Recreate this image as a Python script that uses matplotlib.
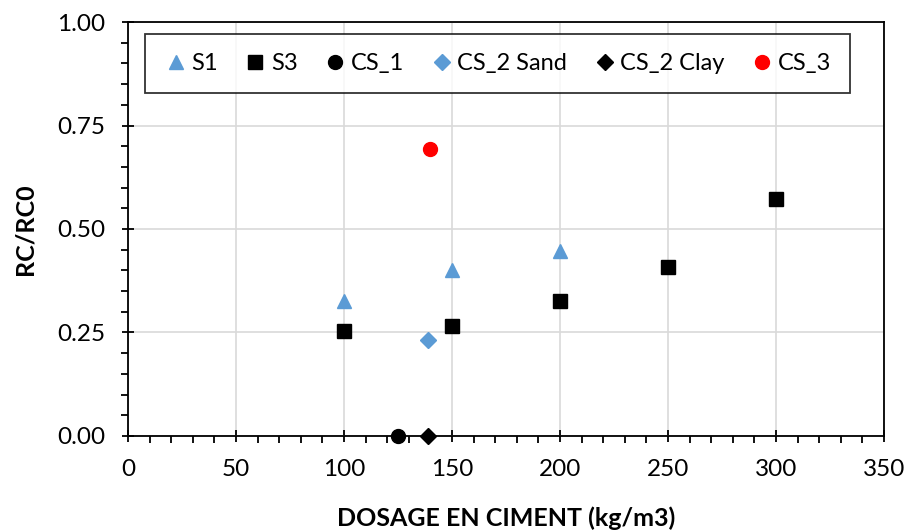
import matplotlib
matplotlib.use("Agg")
import matplotlib.pyplot as plt
from matplotlib.ticker import MultipleLocator

plt.rcParams['font.family'] = ['Lato', 'DejaVu Sans']

s1_x = [100, 150, 200]
s1_y = [0.325, 0.401, 0.446]
s3_x = [100, 150, 200, 250, 300]
s3_y = [0.254, 0.266, 0.326, 0.408, 0.572]
cs1_x = [125]
cs1_y = [0.0]
cs2s_x = [139]
cs2s_y = [0.232]
cs2c_x = [139]
cs2c_y = [0.0]
cs3_x = [140]
cs3_y = [0.693]

blue = '#5B9BD5'

fig = plt.figure(figsize=(9.06, 5.32), dpi=100)
ax = fig.add_axes([0.1413, 0.1805, 0.8344, 0.7781])

ax.plot(s1_x, s1_y, ls='none', marker='^', ms=10, color=blue, label='S1', zorder=3, clip_on=False)
ax.plot(s3_x, s3_y, ls='none', marker='s', ms=10, color='black', label='S3', zorder=3, clip_on=False)
ax.plot(cs1_x, cs1_y, ls='none', marker='o', ms=10, color='black', label='CS_1', zorder=3, clip_on=False)
ax.plot(cs2s_x, cs2s_y, ls='none', marker='D', ms=8, color=blue, label='CS_2 Sand', zorder=3, clip_on=False)
ax.plot(cs2c_x, cs2c_y, ls='none', marker='D', ms=8, color='black', label='CS_2 Clay', zorder=3, clip_on=False)
ax.plot(cs3_x, cs3_y, ls='none', marker='o', ms=10, color='red', label='CS_3', zorder=3, clip_on=False)

ax.set_xlim(0, 350)
ax.set_ylim(0, 1.0)
ax.xaxis.set_major_locator(MultipleLocator(50))
ax.xaxis.set_minor_locator(MultipleLocator(10))
ax.yaxis.set_major_locator(MultipleLocator(0.25))
ax.yaxis.set_minor_locator(MultipleLocator(0.05))
ax.yaxis.set_major_formatter(matplotlib.ticker.FormatStrFormatter('%.2f'))

ax.grid(True, which='major', color='#D9D9D9', lw=1.2, zorder=0)
ax.set_axisbelow(True)
for sp in ax.spines.values():
    sp.set_linewidth(1.3)
    sp.set_color('black')

ax.tick_params(which='major', direction='inout', length=9, width=1.3, labelsize=17.5, pad=12)
ax.tick_params(which='minor', direction='out', length=5, width=1.3)
ax.tick_params(top=False, right=False)

ax.set_xlabel('DOSAGE EN CIMENT (kg/m3)', fontsize=18, fontweight='bold', labelpad=19)
ax.set_ylabel('RC/RC0', fontsize=18, fontweight='bold', labelpad=15)

leg = ax.legend(loc='upper left', bbox_to_anchor=(0.0225, 0.971), ncol=6, fontsize=17,
                frameon=True, fancybox=False, handletextpad=0.15, columnspacing=1.1,
                handlelength=1.0, borderpad=0.8, borderaxespad=0)
leg.get_frame().set_edgecolor('black')
leg.get_frame().set_linewidth(1.3)

fig.savefig('out.png', dpi=100)
